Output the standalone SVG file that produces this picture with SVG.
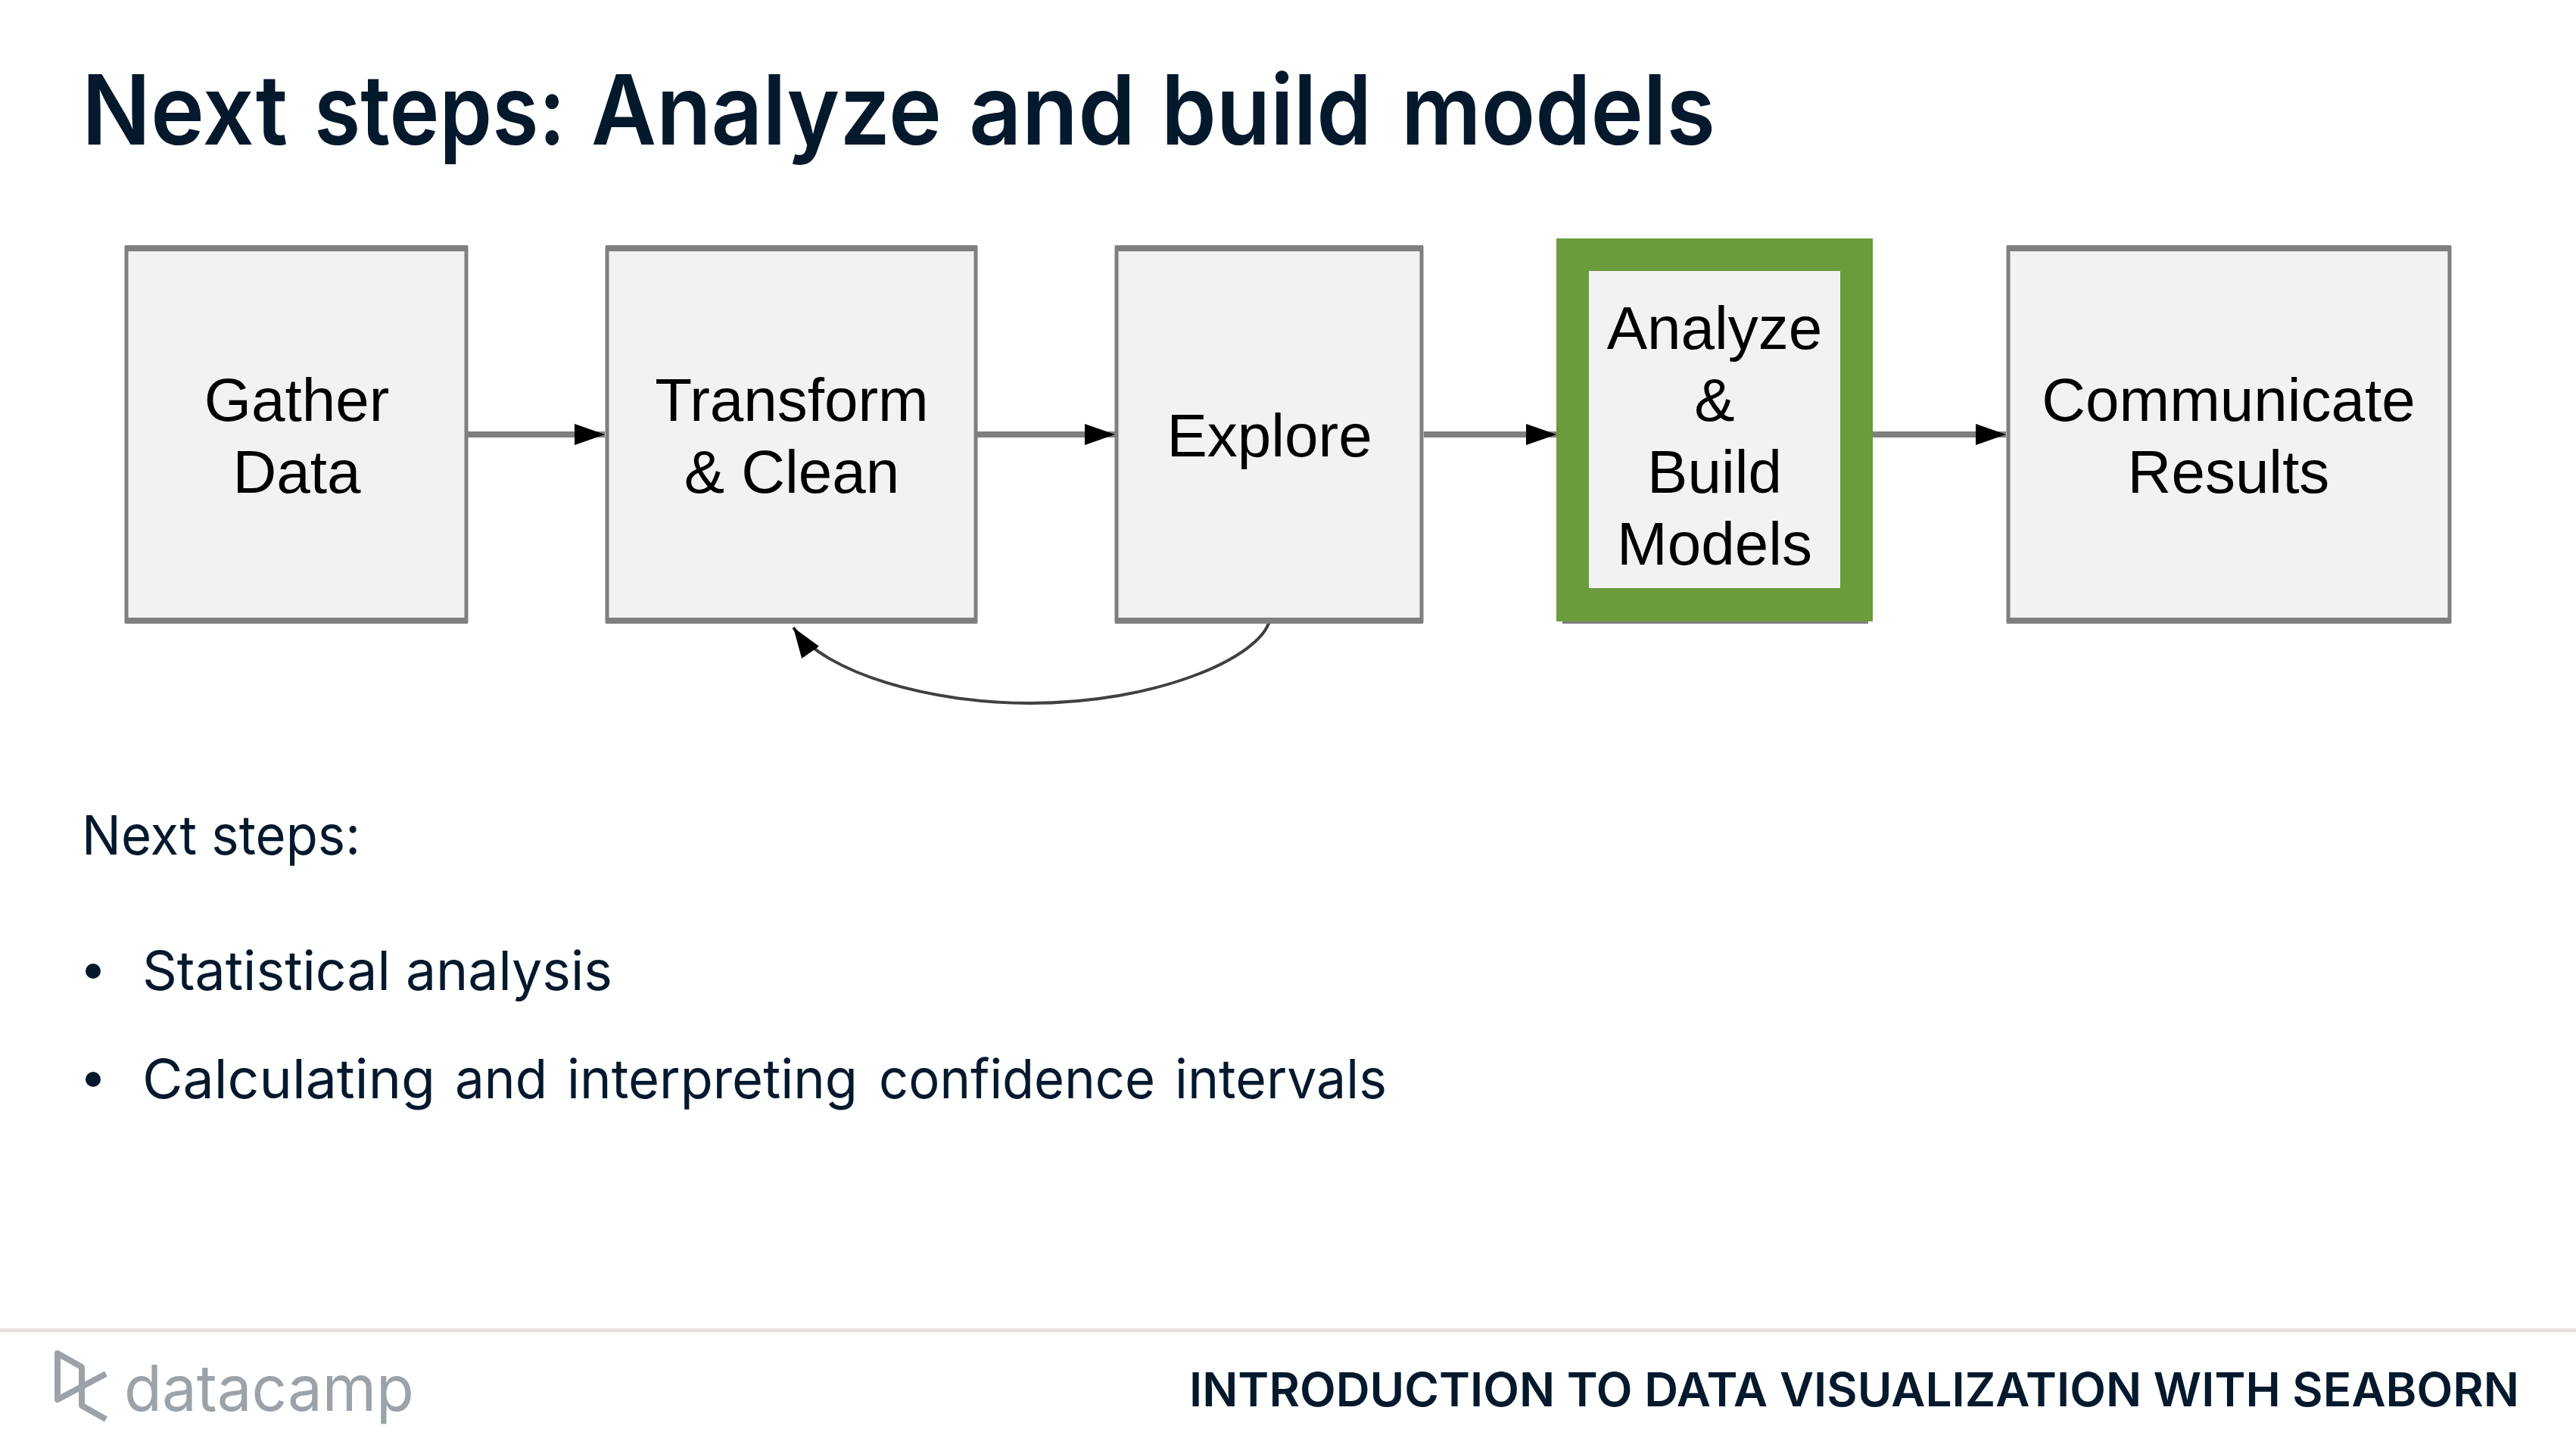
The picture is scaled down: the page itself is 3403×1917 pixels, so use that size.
<svg xmlns="http://www.w3.org/2000/svg" width="3403" height="1917" viewBox="0 0 3403 1917">
<style>
.box{fill:#f2f2f2;stroke:#7f7f7f;stroke-width:5}
.bar{fill:#7f7f7f}
.lbl{font-family:"Liberation Sans",Arial,sans-serif;font-size:80px;fill:#000;text-anchor:middle}
.conn{fill:none;stroke:#7f7f7f;stroke-width:8}
.body{font-family:"Inter","Noto Sans",sans-serif;font-size:72px;fill:#05192d}
.edge{fill:none;stroke:#404040;stroke-width:4}
</style>
<defs>
<marker id="ah" markerUnits="userSpaceOnUse" markerWidth="44" markerHeight="30" refX="40" refY="15" orient="auto"><path d="M0 1L40 15L0 29Z" fill="#000"/></marker>
</defs>
<rect width="3403" height="1917" fill="#fff"/>
<text y="191" font-family="Inter,'Noto Sans',sans-serif" font-weight="600" font-size="128" fill="#05192d"><tspan x="108" textLength="272" lengthAdjust="spacingAndGlyphs">Next</tspan> <tspan x="415" textLength="332" lengthAdjust="spacingAndGlyphs">steps:</tspan> <tspan x="781" textLength="463" lengthAdjust="spacingAndGlyphs">Analyze</tspan> <tspan x="1280" textLength="220" lengthAdjust="spacingAndGlyphs">and</tspan> <tspan x="1534" textLength="278" lengthAdjust="spacingAndGlyphs">build</tspan> <tspan x="1851" textLength="415" lengthAdjust="spacingAndGlyphs">models</tspan></text>
<g id="connectors">
<path class="conn" d="M618 574H799" marker-end="url(#ah)"/>
<path class="conn" d="M1290 574H1473" marker-end="url(#ah)"/>
<path class="conn" d="M1881 574H2056" marker-end="url(#ah)"/>
<path class="conn" d="M2474 574H2650" marker-end="url(#ah)"/>
<path class="edge" d="M1677 820C1665 868 1530 929 1360 929C1230 929 1090 890 1048 829" marker-end="url(#ah)"/>
</g>
<g id="node-gather"><rect class="box" x="167" y="328" width="449" height="492"/><rect class="bar" x="165" y="324" width="453" height="8"/><rect class="bar" x="165" y="816" width="453" height="8"/><text class="lbl" x="392" y="556">Gather</text><text class="lbl" x="392" y="651">Data</text></g>
<g id="node-transform"><rect class="box" x="802" y="328" width="487" height="492"/><rect class="bar" x="800" y="324" width="491" height="8"/><rect class="bar" x="800" y="816" width="491" height="8"/><text class="lbl" x="1046" y="556">Transform</text><text class="lbl" x="1046" y="651">&amp; Clean</text></g>
<g id="node-explore"><rect class="box" x="1475" y="328" width="403" height="492"/><rect class="bar" x="1473" y="324" width="407" height="8"/><rect class="bar" x="1473" y="816" width="407" height="8"/><text class="lbl" x="1677" y="603">Explore</text></g>
<g id="node-analyze"><rect class="bar" x="2064" y="816" width="404" height="8"/><rect x="2056" y="315" width="418" height="506" fill="#6a9c3c"/><rect x="2099" y="358" width="332" height="419" fill="#f2f2f2"/><text class="lbl" x="2265" y="461">Analyze</text><text class="lbl" x="2265" y="556">&amp;</text><text class="lbl" x="2265" y="651">Build</text><text class="lbl" x="2265" y="746">Models</text></g>
<g id="node-communicate"><rect class="box" x="2653" y="328" width="583" height="492"/><rect class="bar" x="2651" y="324" width="587" height="8"/><rect class="bar" x="2651" y="816" width="587" height="8"/><text class="lbl" x="2944" y="556">Communicate</text><text class="lbl" x="2944" y="651">Results</text></g>
<text class="body" x="108" y="1129" textLength="368" lengthAdjust="spacingAndGlyphs">Next steps:</text>
<circle cx="123" cy="1283" r="10" fill="#05192d"/>
<text class="body" x="188" y="1308" textLength="621" lengthAdjust="spacingAndGlyphs">Statistical analysis</text>
<circle cx="123" cy="1426" r="10" fill="#05192d"/>
<text class="body" y="1451"><tspan x="188" textLength="387" lengthAdjust="spacingAndGlyphs">Calculating</tspan> <tspan x="601" textLength="122" lengthAdjust="spacingAndGlyphs">and</tspan> <tspan x="749" textLength="384" lengthAdjust="spacingAndGlyphs">interpreting</tspan> <tspan x="1161" textLength="365" lengthAdjust="spacingAndGlyphs">confidence</tspan> <tspan x="1552" textLength="280" lengthAdjust="spacingAndGlyphs">intervals</tspan></text>
<rect y="1755" width="3403" height="5" fill="#e5e1da"/>
<path d="M140 1815L76 1849V1788L108 1806V1857L140 1875" fill="none" stroke="#9ba3a9" stroke-width="8" stroke-linejoin="round"/>
<text x="164" y="1864" font-family="Inter,Lato,sans-serif" font-weight="400" font-size="84" fill="#9ba3a9" textLength="383" lengthAdjust="spacingAndGlyphs">datacamp</text>
<text x="1571" y="1858" font-family="Inter,'Noto Sans',sans-serif" font-weight="600" font-size="62" fill="#05192d" textLength="1757" lengthAdjust="spacingAndGlyphs">INTRODUCTION TO DATA VISUALIZATION WITH SEABORN</text>
</svg>
